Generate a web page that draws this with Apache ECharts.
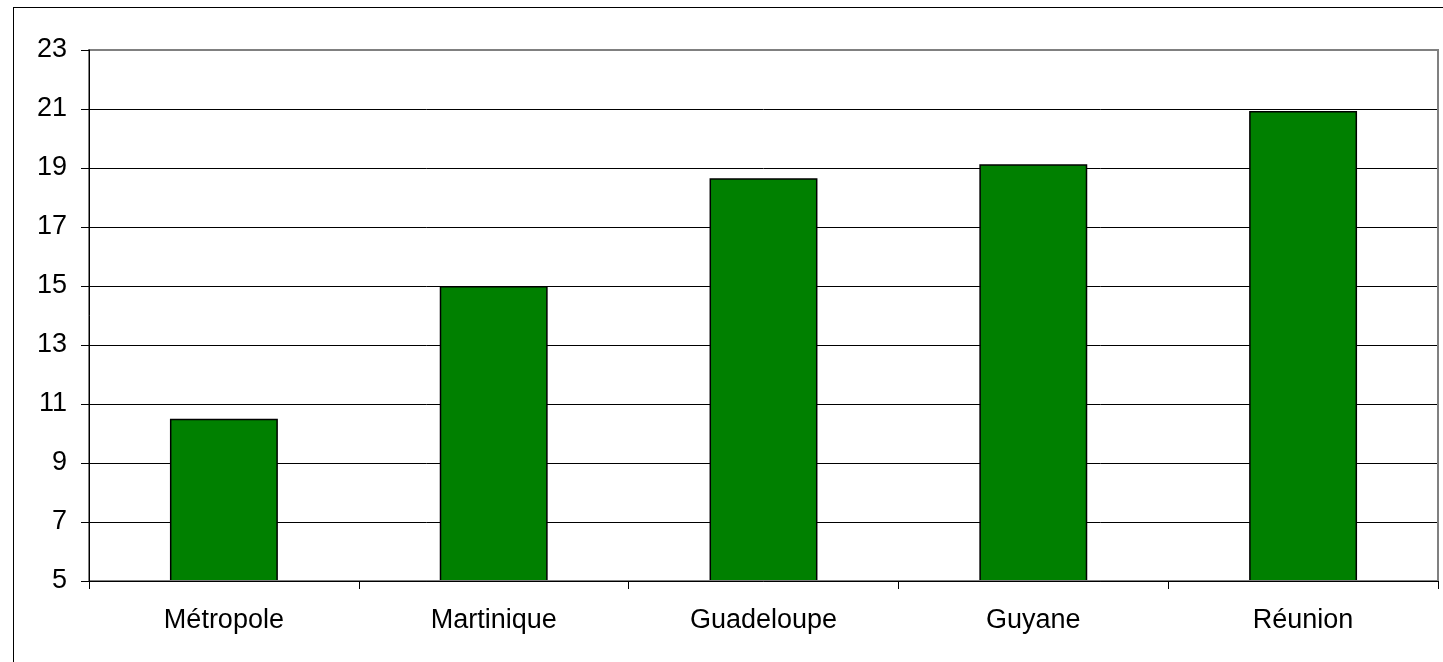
<!DOCTYPE html>
<html>
<head>
<meta charset="utf-8">
<script src="https://cdn.jsdelivr.net/npm/echarts@6/dist/echarts.min.js"></script>
<style>
html, body { margin: 0; padding: 0; background: #fff; overflow: hidden; }
#chart { position: absolute; left: 0; top: 0; width: 1443px; height: 662px; }
#frame { position: absolute; left: 13px; top: 7px; width: 1500px; height: 700px; border: 1px solid #000; pointer-events: none; }
</style>
</head>
<body>
<div id="chart"></div>
<div id="frame"></div>
<script>
// catégories et valeurs
var categories = ["Métropole", "Martinique", "Guadeloupe", "Guyane", "Réunion"]
var values = [10.5, 15.0, 18.65, 19.13, 20.93]
var yMin = 5
var yMax = 23
var yStep = 2

var labelFont = {
    color: "#000",
    fontFamily: "Liberation Sans",
    fontSize: 27
}

var myChart = echarts.init(document.getElementById("chart"))
var option = {
    animation: false,
    grid: {
        left: 89,
        right: 5,
        top: 50,
        bottom: 81,
        show: true,
        z: 5,
        borderColor: "#808080",
        borderWidth: 2
    },
    xAxis: {
        type: "category",
        data: categories,
        z: 6,
        axisLine: { lineStyle: { color: "#000", width: 1 } },
        axisTick: { show: true, length: 8, lineStyle: { color: "#000" } },
        axisLabel: Object.assign({ margin: 26 }, labelFont)
    },
    yAxis: [
        {
            // lignes de grille seulement
            type: "value",
            min: yMin,
            max: yMax,
            interval: yStep,
            axisLine: { show: false },
            axisTick: { show: false },
            axisLabel: { show: false },
            splitLine: { show: true, lineStyle: { color: "#000", width: 1 } }
        },
        {
            // axe gauche avec graduations
            type: "value",
            position: "left",
            min: yMin,
            max: yMax,
            interval: yStep,
            z: 6,
            axisLine: { show: true, lineStyle: { color: "#000", width: 1 } },
            axisTick: { show: true, length: 8, lineStyle: { color: "#000" } },
            axisLabel: Object.assign({ margin: 22 }, labelFont),
            splitLine: { show: false }
        }
    ],
    series: [
        {
            type: "bar",
            data: values,
            barWidth: "40%",
            itemStyle: {
                color: "#008000",
                borderColor: "#000",
                borderWidth: 1.5
            }
        }
    ]
}
myChart.setOption(option)
</script>
</body>
</html>
